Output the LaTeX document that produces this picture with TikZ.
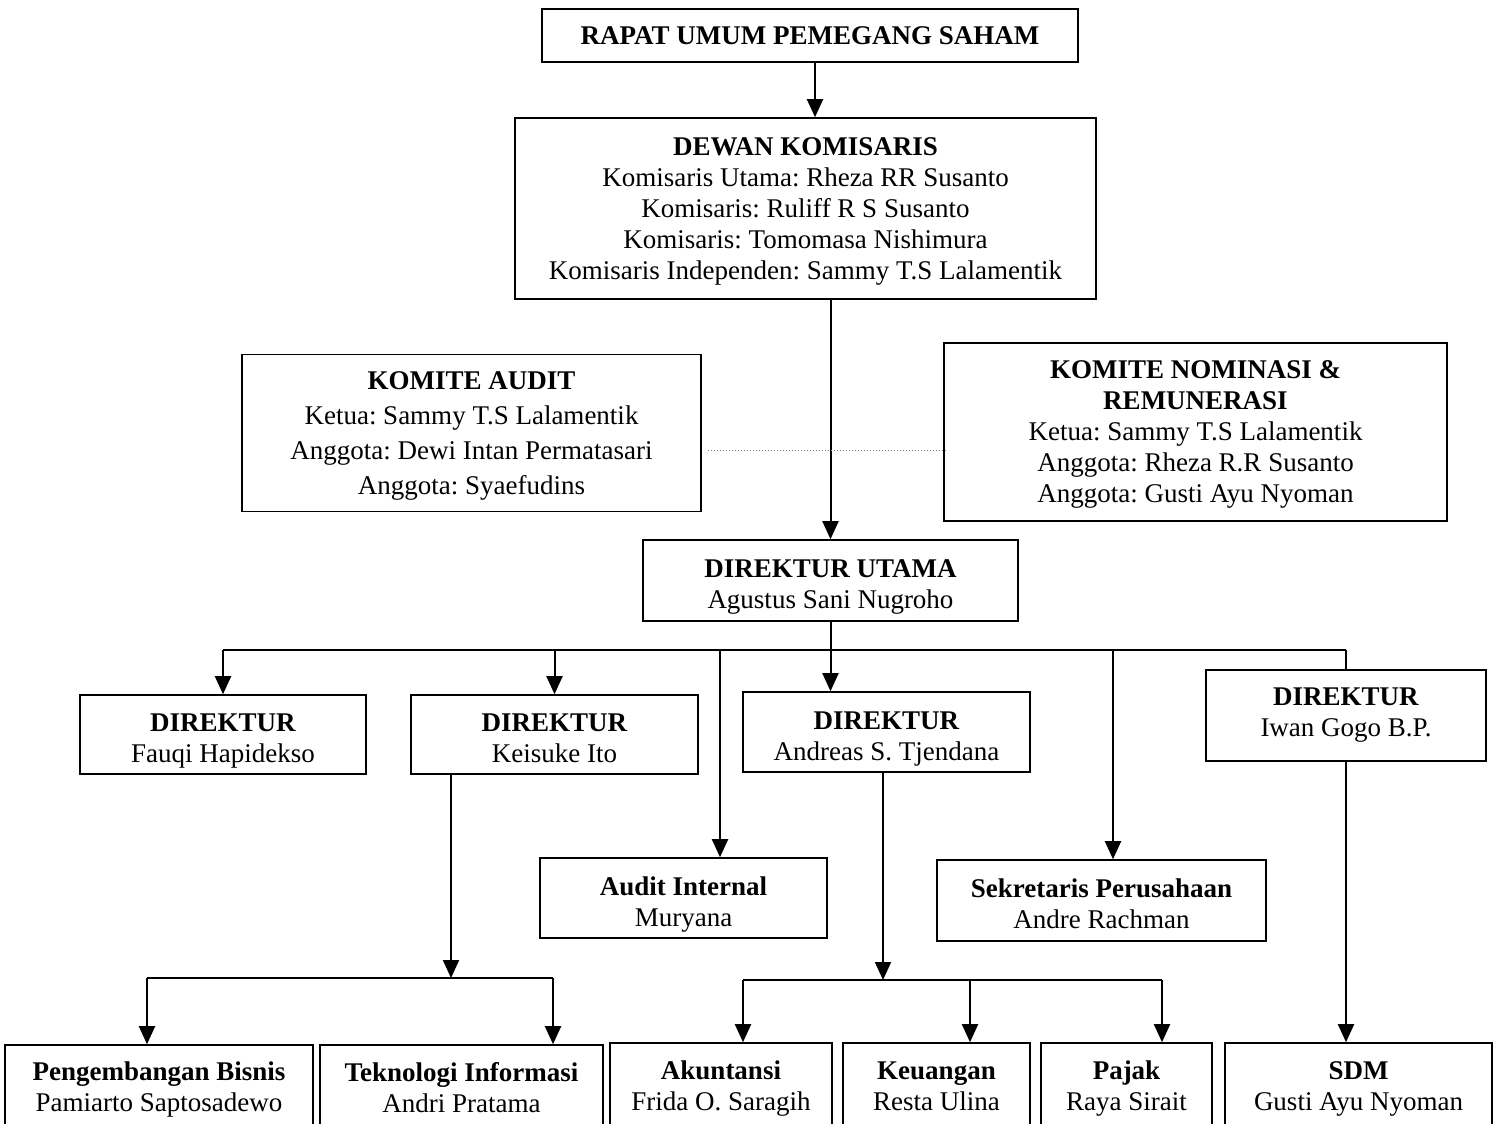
\documentclass[tikz,border=0pt]{standalone}
\usepackage{fontspec}
\setmainfont{Liberation Serif}
\usetikzlibrary{arrows.meta}
\usetikzlibrary{calc}

\newcommand{\orgfont}{\fontsize{13.5}{15.5}\selectfont\frenchspacing}

\begin{document}
\begin{tikzpicture}[x=0.5pt, y=-0.5pt,
    box/.style={draw, line width=0.8pt, inner sep=0pt, align=center, font=\orgfont, text depth=#1},
    box/.default=0pt,
    dirbox/.style={box, text height=28pt},
    link/.style={line width=1pt},
    arrow/.style={line width=1pt, -{Triangle[width=8pt,length=9pt]}},
    busline/.style={line width=1.4pt},
    dotline/.style={gray, line width=0.5pt, densely dotted}]
\useasboundingbox (0,0) rectangle (1495,1124);

% shareholders and board
\node[box, minimum width=268pt, minimum height=26.5pt] (rups) at (810,35.5) {\textbf{RAPAT UMUM PEMEGANG SAHAM}};
\node[box, minimum width=290.5pt, minimum height=90.5pt] (dekom) at (805.5,208.5)
    {\textbf{DEWAN KOMISARIS}\\Komisaris Utama: Rheza RR Susanto\\Komisaris: Ruliff R S Susanto\\Komisaris: Tomomasa Nishimura\\Komisaris Independen: Sammy T.S Lalamentik};

% committees
\node[box, font=\fontsize{13.5}{17.5}\selectfont\frenchspacing, minimum width=229.5pt, minimum height=78.5pt] (audit) at (471.5,433)
    {\textbf{KOMITE AUDIT}\\Ketua: Sammy T.S Lalamentik\\Anggota: Dewi Intan Permatasari\\Anggota: Syaefudins};
\node[box, minimum width=251.5pt, minimum height=89pt] (nominasi) at (1195.5,432)
    {\textbf{KOMITE NOMINASI \&}\\\textbf{REMUNERASI}\\Ketua: Sammy T.S Lalamentik\\Anggota: Rheza R.R Susanto\\Anggota: Gusti Ayu Nyoman};

% directors
\node[dirbox, minimum width=187.5pt, minimum height=40.5pt] (dirut) at (830.5,580.5) {\textbf{DIREKTUR UTAMA}\\Agustus Sani Nugroho};
\node[dirbox, minimum width=143pt, minimum height=39.5pt] (dirA) at (223,734.5) {\textbf{DIREKTUR}\\Fauqi Hapidekso};
\node[dirbox, minimum width=143.5pt, minimum height=39.5pt] (dirB) at (554.5,734.5) {\textbf{DIREKTUR}\\Keisuke Ito};
\node[dirbox, minimum width=143.5pt, minimum height=40pt] (dirC) at (886.5,732) {\textbf{DIREKTUR}\\Andreas S. Tjendana};
\node[box=3.6pt, minimum width=140pt, minimum height=45.5pt] (dirD) at (1346,715.5) {\textbf{DIREKTUR}\\Iwan Gogo B.P.};

\node[dirbox, minimum width=143.5pt, minimum height=40pt] (audint) at (683.5,898) {\textbf{Audit Internal}\\Muryana};
\node[dirbox, minimum width=164.5pt, minimum height=40.5pt] (sekper) at (1101.5,900.5) {\textbf{Sekretaris Perusahaan}\\Andre Rachman};

% units
\node[box, minimum width=154pt, minimum height=42pt] (bisnis) at (159,1087) {\textbf{Pengembangan Bisnis}\\Pamiarto Saptosadewo};
\node[box, minimum width=141.5pt, minimum height=42pt] (ti) at (461.5,1087) {\textbf{Teknologi Informasi}\\Andri Pratama};
\node[box, minimum width=111pt, minimum height=43pt] (akt) at (721,1086) {\textbf{Akuntansi}\\Frida O. Saragih};
\node[box, minimum width=93.5pt, minimum height=43pt] (keu) at (936.5,1086) {\textbf{Keuangan}\\Resta Ulina};
\node[box, minimum width=85.5pt, minimum height=43pt] (pajak) at (1126.5,1086) {\textbf{Pajak}\\Raya Sirait};
\node[box, minimum width=133.5pt, minimum height=43pt] (sdm) at (1358.5,1086) {\textbf{SDM}\\Gusti Ayu Nyoman};

% bus points
\coordinate (bus) at (826,650);
\coordinate (tapAI) at (720,650);
\coordinate (tapSP) at (1113,650);
\coordinate (busB) at (451,978);
\coordinate (busBl) at (147,978);
\coordinate (busBr) at (553,978);
\coordinate (busC) at (883,980);
\coordinate (busCl) at (743,980);
\coordinate (busCm) at (970,980);
\coordinate (busCr) at (1162,980);

% top links
\draw[arrow] (rups.south -| 815,0) -- (dekom.north -| 815,0);
\draw[arrow] (dekom.south -| dirut.north) -- (dirut.north);
\draw[dotline] ($(audit.east)+(6,17)$) -- ($(audit.east -| nominasi.west)+(4,17)$);

% director bus
\draw[busline] (dirA.north |- bus) -- (dirD.north |- bus);
\draw[arrow] (dirut.south) -- (dirut.south |- dirC.north);
\draw[arrow] (dirA.north |- bus) -- (dirA.north);
\draw[arrow] (dirB.north |- bus) -- (dirB.north);
\draw[arrow] (tapAI) -- (tapAI |- audint.north);
\draw[arrow] (tapSP) -- (tapSP |- sekper.north);
\draw[link] (dirD.north |- bus) -- (dirD.north);

% Keisuke Ito
\draw[arrow] (busB |- dirB.south) -- (busB);
\draw[busline] (busBl) -- (busBr);
\draw[arrow] (busBl) -- (busBl |- bisnis.north);
\draw[arrow] (busBr) -- (busBr |- ti.north);

% Andreas S. Tjendana
\draw[arrow] (busC |- dirC.south) -- (busC);
\draw[busline] (busCl) -- (busCr);
\draw[arrow] (busCl) -- (busCl |- akt.north);
\draw[arrow] (busCm) -- (busCm |- keu.north);
\draw[arrow] (busCr) -- (busCr |- pajak.north);

% Iwan Gogo
\draw[arrow] (dirD.south) -- (dirD.south |- sdm.north);
\end{tikzpicture}
\end{document}
